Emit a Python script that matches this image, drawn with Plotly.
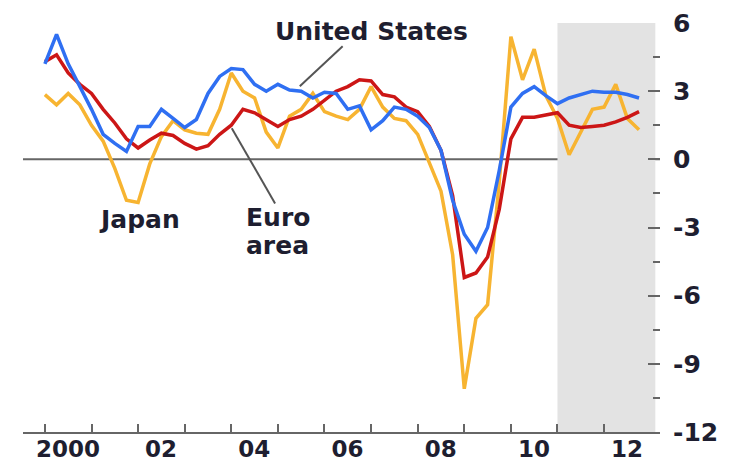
"""
Real GDP growth: United States, Euro area and Japan, quarterly 2000-2012
(shaded area = projections)
"""

import plotly.graph_objects as go

years = list(range(2000, 2013))
quarters = [y + q / 4 for y in years for q in range(4)]

us = [4.2, 5.5, 4.2, 3.2,
      2.2, 1.1, 0.7, 0.35,
      1.45, 1.45, 2.2, 1.8,
      1.4, 1.75, 2.9, 3.65,
      4.0, 3.95, 3.3, 3.0,
      3.3, 3.05, 3.0, 2.7,
      2.95, 2.9, 2.2, 2.35,
      1.3, 1.7, 2.3, 2.2,
      1.9, 1.4, 0.4, -1.8,
      -3.3, -4.05, -3.0, -0.5,
      2.3, 2.9, 3.2, 2.8,
      2.45, 2.7, 2.85, 3.0,
      2.95, 2.95, 2.85, 2.7]

euro = [4.3, 4.6, 3.8, 3.3,
        2.9, 2.2, 1.6, 0.9,
        0.5, 0.85, 1.15, 1.05,
        0.7, 0.45, 0.6, 1.1,
        1.5, 2.2, 2.05, 1.75,
        1.45, 1.75, 1.9, 2.2,
        2.6, 3.0, 3.2, 3.5,
        3.45, 2.85, 2.75, 2.3,
        2.1, 1.45, 0.4, -1.6,
        -5.2, -5.0, -4.3, -2.2,
        0.9, 1.85, 1.85, 1.95,
        2.05, 1.5, 1.4, 1.45,
        1.5, 1.65, 1.85, 2.1]

japan = [2.85, 2.4, 2.9, 2.4,
         1.5, 0.8, -0.4, -1.8,
         -1.9, -0.2, 1.0, 1.7,
         1.3, 1.15, 1.1, 2.2,
         3.8, 3.0, 2.7, 1.2,
         0.5, 1.9, 2.2, 2.9,
         2.1, 1.9, 1.75, 2.2,
         3.2, 2.3, 1.8, 1.7,
         1.1, -0.2, -1.4, -4.2,
         -10.1, -7.0, -6.4, -1.0,
         5.4, 3.5, 4.85, 2.8,
         1.8, 0.2, 1.2, 2.2,
         2.3, 3.3, 1.8, 1.3]

year_labels = ["2000", "", "02", "", "04", "", "06", "", "08", "", "10", "", "12"]
y_ticks = [-12, -9, -6, -3, 0, 3, 6]
y_labels = ["-12", "-9", "-6", "-3", "0", "3", "6"]

text_col = "#1e1e30"
axis_col = "#666666"
font = dict(family="DejaVu Sans", size=25, color=text_col, weight="bold")
xfont = dict(family="DejaVu Sans", size=23, color=text_col, weight="bold")

fig = go.Figure()
fig.add_trace(go.Scatter(x=quarters, y=japan, mode="lines", name="Japan",
                         line=dict(color="#f7b431", width=3.5)))
fig.add_trace(go.Scatter(x=quarters, y=euro, mode="lines", name="Euro area",
                         line=dict(color="#cc1616", width=3.5)))
fig.add_trace(go.Scatter(x=quarters, y=us, mode="lines", name="United States",
                         line=dict(color="#2f6ff2", width=3.5)))

# projection shading and zero line
fig.add_shape(type="rect", x0=2011.0, x1=2013.1, y0=-12, y1=6.1,
              fillcolor="#e3e3e3", line_width=0, layer="below")
fig.add_shape(type="line", xref="paper", x0=0, x1=1, y0=0, y1=0,
              line=dict(color=axis_col, width=2), layer="below")

# series labels with leader lines
fig.add_shape(type="line", x0=2006.39, y0=4.98, x1=2005.47, y1=3.22,
              line=dict(color="#555555", width=2))
fig.add_shape(type="line", x0=2004.01, y0=1.37, x1=2004.94, y1=-1.94,
              line=dict(color="#555555", width=2))
fig.add_annotation(x=2007.0, y=5.64, text="United States", showarrow=False, font=font)
fig.add_annotation(x=2002.04, y=-2.64, text="Japan", showarrow=False, font=font)
fig.add_annotation(x=2005.0, y=-2.56, text="Euro", showarrow=False, font=font)
fig.add_annotation(x=2005.0, y=-3.79, text="area", showarrow=False, font=font)

# page body keeps an 8px margin, so the figure is 8px smaller on each side
fig.update_layout(
    width=735, height=454,
    margin=dict(l=15, r=83, t=15, b=30),
    paper_bgcolor="white", plot_bgcolor="white",
    showlegend=False,
    font=font,
    xaxis=dict(range=[1999.53, 2013.2], tickvals=years, ticktext=year_labels,
               ticks="inside", ticklen=8, tickwidth=2, tickcolor=axis_col,
               ticklabelshift=23, ticklabelstandoff=-5, automargin=False,
               showline=True, linecolor=axis_col, linewidth=2,
               showgrid=False, zeroline=False, tickfont=xfont),
    yaxis=dict(range=[-12, 6], side="right", tickvals=y_ticks, ticktext=y_labels,
               ticks="inside", ticklen=12, tickwidth=2, tickcolor=axis_col,
               minor=dict(ticks="inside", ticklen=7, tickwidth=2, tickcolor=axis_col,
                          tick0=-12, dtick=1.5),
               ticklabelstandoff=12, automargin=False, showline=False,
               showgrid=False, zeroline=False, tickfont=font),
    yaxis2=dict(range=[-12, 6], side="left", overlaying="y", tickvals=y_ticks,
                ticks="inside", ticklen=14, tickwidth=2, tickcolor=axis_col,
                minor=dict(ticks="inside", ticklen=8, tickwidth=2, tickcolor=axis_col,
                           tick0=-12, dtick=1.5),
                automargin=False, showticklabels=False, showline=False,
                showgrid=False, zeroline=False),
)

fig.write_html("out.html")
